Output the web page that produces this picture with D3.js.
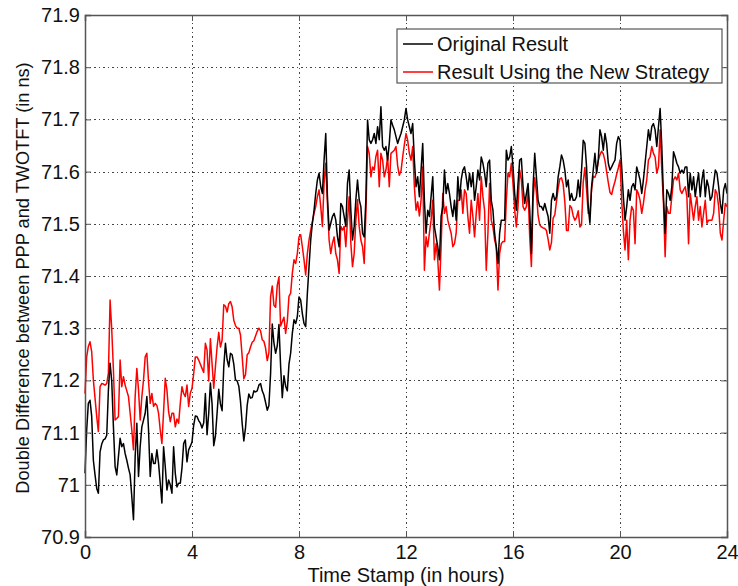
<!DOCTYPE html>
<html>
<head>
<meta charset="utf-8">
<script src="https://cdn.jsdelivr.net/npm/d3@7"></script>
<style>
  html, body { margin: 0; padding: 0; background: #ffffff; }
  svg { display: block; font-family: "Liberation Sans", Arial, sans-serif; }
</style>
</head>
<body>
<svg id="chart" width="738" height="586"></svg>
<script>
// ---------------- data ----------------
const timeStepHours = 1 / 16;   // one sample every 3.75 minutes
const seriesNames = ["Original Result", "Result Using the New Strategy"];
const seriesColors = ["#000000", "#ff0000"];

const originalResult = [
  71.022,71.105,71.156,71.162,71.131,71.047,71.019,70.993,70.984,71.063,
  71.078,71.086,71.088,71.095,71.182,71.233,71.198,71.111,71.035,71.019,
  71.054,71.089,71.073,71.079,71.06,71.047,71.032,71.019,70.977,70.933,
  71.054,71.118,71.016,71.073,71.111,71.124,71.137,71.169,71.105,71.016,
  71.06,71.041,71.041,71.067,71.041,71.003,70.965,71.073,71.035,70.99,
  71.009,71.0,70.984,71.073,71.022,70.996,71.003,71.003,71.032,71.079,
  71.086,71.044,71.067,71.074,71.082,71.114,71.132,71.131,71.123,71.118,
  71.109,71.119,71.175,71.096,71.137,71.195,71.155,71.075,71.093,71.137,
  71.183,71.155,71.142,71.226,71.271,71.24,71.226,71.252,71.249,71.231,
  71.201,71.199,71.189,71.16,71.118,71.084,71.109,71.152,71.174,71.166,
  71.167,71.18,71.178,71.18,71.191,71.194,71.18,71.172,71.158,71.143,
  71.152,71.213,71.308,71.272,71.252,71.266,71.307,71.227,71.167,71.209,
  71.189,71.18,71.231,71.252,71.29,71.316,71.309,71.322,71.36,71.354,
  71.328,71.309,71.303,71.367,71.418,71.469,71.501,71.526,71.558,71.584,
  71.597,71.571,71.558,71.622,71.673,71.552,71.488,71.501,71.514,71.52,
  71.507,71.475,71.456,71.539,71.533,71.514,71.495,71.578,71.603,71.526,
  71.469,71.495,71.546,71.584,71.546,71.533,71.482,71.475,71.546,71.699,
  71.661,71.654,71.661,71.673,71.654,71.686,71.661,71.724,71.648,71.641,
  71.648,71.622,71.654,71.699,71.689,71.68,71.667,71.654,71.664,71.673,
  71.686,71.699,71.721,71.699,71.686,71.673,71.692,71.622,71.571,71.59,
  71.552,71.603,71.654,71.545,71.482,71.526,71.514,71.552,71.59,71.494,
  71.475,71.456,71.431,71.514,71.533,71.603,71.558,71.577,71.558,71.533,
  71.514,71.545,71.507,71.59,71.545,71.584,71.603,71.609,71.59,71.565,
  71.597,71.571,71.597,71.545,71.571,71.603,71.584,71.628,71.616,71.597,
  71.571,71.616,71.622,71.545,71.526,71.482,71.456,71.424,71.482,71.507,
  71.507,71.507,71.641,71.622,71.628,71.648,71.609,71.558,71.526,71.577,
  71.622,71.625,71.571,71.539,71.558,71.577,71.526,71.443,71.571,71.635,
  71.59,71.545,71.533,71.533,71.526,71.539,71.526,71.514,71.482,71.545,
  71.558,71.545,71.552,71.59,71.609,71.632,71.622,71.603,71.571,71.584,
  71.545,71.558,71.545,71.545,71.552,71.584,71.552,71.603,71.66,71.654,
  71.609,71.533,71.501,71.571,71.603,71.635,71.597,71.622,71.68,71.667,
  71.641,71.673,71.654,71.616,71.603,71.609,71.616,71.622,71.654,71.667,
  71.66,71.609,71.552,71.507,71.533,71.565,71.545,71.571,71.577,71.565,
  71.609,71.597,71.584,71.558,71.584,71.616,71.648,71.68,71.66,71.686,
  71.692,71.68,71.648,71.686,71.721,71.648,71.552,71.482,71.565,71.558,
  71.545,71.571,71.638,71.628,71.616,71.609,71.597,71.603,71.597,71.609,
  71.609,71.552,71.597,71.565,71.59,71.552,71.577,71.597,71.552,71.584,
  71.603,71.552,71.584,71.571,71.545,71.552,71.577,71.603,71.597,71.571,
  71.539,71.52,71.565,71.577,71.558
];

const newStrategyResult = [
  71.175,71.245,71.265,71.274,71.255,71.201,71.166,71.131,71.102,71.188,
  71.194,71.193,71.191,71.194,71.214,71.354,71.297,71.22,71.124,71.127,
  71.131,71.239,71.188,71.207,71.191,71.18,71.169,71.137,71.105,71.067,
  71.169,71.223,71.182,71.124,71.169,71.201,71.245,71.252,71.198,71.156,
  71.175,71.15,71.156,71.152,71.137,71.105,71.079,71.14,71.204,71.182,
  71.14,71.121,71.137,71.137,71.111,71.126,71.118,71.156,71.188,71.175,
  71.169,71.191,71.15,71.176,71.185,71.213,71.245,71.245,71.239,71.231,
  71.223,71.215,71.271,71.258,71.199,71.28,71.232,71.185,71.226,71.264,
  71.292,71.264,71.277,71.345,71.342,71.331,71.347,71.351,71.341,71.315,
  71.305,71.3,71.3,71.287,71.246,71.203,71.211,71.249,71.253,71.264,
  71.273,71.276,71.285,71.294,71.3,71.295,71.278,71.275,71.262,71.238,
  71.253,71.36,71.381,71.344,71.34,71.382,71.398,71.304,71.313,71.321,
  71.29,71.313,71.361,71.367,71.405,71.431,71.424,71.443,71.475,71.479,
  71.456,71.431,71.402,71.443,71.469,71.488,71.504,71.52,71.533,71.552,
  71.565,71.533,71.495,71.578,71.616,71.539,71.469,71.443,71.463,71.475,
  71.443,71.431,71.405,71.495,71.488,71.495,71.456,71.507,71.552,71.463,
  71.418,71.443,71.507,71.546,71.495,71.469,71.456,71.424,71.52,71.648,
  71.635,71.59,71.609,71.603,71.629,71.641,71.571,71.635,71.622,71.59,
  71.603,71.629,71.571,71.635,71.638,71.641,71.648,71.611,71.593,71.601,
  71.628,71.651,71.673,71.66,71.635,71.622,71.648,71.571,71.526,71.542,
  71.515,71.545,71.609,71.411,71.475,71.456,71.482,71.507,71.545,71.431,
  71.462,71.431,71.373,71.456,71.558,71.52,71.533,71.507,71.494,71.482,
  71.456,71.462,71.482,71.545,71.545,71.565,71.52,71.565,71.558,71.514,
  71.482,71.545,71.514,71.475,71.52,71.558,71.507,71.59,71.552,71.526,
  71.411,71.482,71.577,71.507,71.494,71.469,71.456,71.373,71.443,71.462,
  71.466,71.466,71.545,71.597,71.59,71.616,71.577,71.526,71.494,71.533,
  71.603,71.584,71.533,71.526,71.533,71.565,71.475,71.418,71.545,71.588,
  71.56,71.516,71.498,71.494,71.492,71.491,71.487,71.47,71.45,71.464,
  71.511,71.517,71.543,71.568,71.586,71.588,71.576,71.542,71.487,71.487,
  71.535,71.531,71.515,71.507,71.512,71.525,71.494,71.498,71.58,71.608,
  71.565,71.52,71.52,71.566,71.591,71.589,71.599,71.621,71.632,71.639,
  71.634,71.621,71.6,71.579,71.56,71.556,71.57,71.581,71.595,71.607,
  71.622,71.545,71.488,71.45,71.507,71.431,71.507,71.533,71.526,71.462,
  71.565,71.558,71.545,71.52,71.539,71.565,71.584,71.622,71.628,71.648,
  71.635,71.628,71.597,71.609,71.68,71.603,71.539,71.437,71.533,71.52,
  71.52,71.552,71.584,71.59,71.584,71.597,71.565,71.558,71.565,71.571,
  71.552,71.462,71.558,71.533,71.507,71.533,71.552,71.507,71.533,71.494,
  71.52,71.545,71.501,71.507,71.507,71.507,71.52,71.565,71.558,71.533,
  71.482,71.469,71.507,71.539,71.533
];

const xTicks = [0, 4, 8, 12, 16, 20, 24];
const yTicks = [70.9, 71.0, 71.1, 71.2, 71.3, 71.4, 71.5, 71.6, 71.7, 71.8, 71.9];
const yTickLabels = ["70.9", "71", "71.1", "71.2", "71.3", "71.4", "71.5", "71.6", "71.7", "71.8", "71.9"];
const xLabel = "Time Stamp (in hours)";
const yLabel = "Double Difference between PPP and TWOTFT (in ns)";

// ---------------- layout ----------------
const svg = d3.select("#chart");
const plot = { left: 85, top: 15, right: 727, bottom: 537 };
const W = plot.right - plot.left, H = plot.bottom - plot.top;

const x = d3.scaleLinear().domain([0, 24]).range([plot.left, plot.right]);
const y = d3.scaleLinear().domain([70.9, 71.9]).range([plot.bottom, plot.top]);

svg.append("rect").attr("width", 738).attr("height", 586).attr("fill", "#fff");

// grid
const grid = svg.append("g").attr("class", "grid");
grid.append("g")
  .attr("transform", `translate(0,${plot.bottom})`)
  .call(d3.axisBottom(x).tickValues(xTicks.slice(1, -1)).tickSize(-H).tickFormat(""))
  .call(g => g.select(".domain").remove());
grid.append("g")
  .attr("transform", `translate(${plot.left},0)`)
  .call(d3.axisLeft(y).tickValues(yTicks.slice(1, -1)).tickSize(-W).tickFormat(""))
  .call(g => g.select(".domain").remove());
grid.selectAll("line")
  .attr("stroke", "#444").attr("stroke-width", 1)
  .attr("stroke-dasharray", "1.5,3").attr("shape-rendering", "crispEdges");

// series
const lineGen = d3.line()
  .x((d, i) => x(i * timeStepHours))
  .y(d => y(d));

svg.append("path")
  .datum(newStrategyResult)
  .attr("fill", "none").attr("stroke", seriesColors[1]).attr("stroke-width", 1.5)
  .attr("stroke-linejoin", "round")
  .attr("d", lineGen);
svg.append("path")
  .datum(originalResult)
  .attr("fill", "none").attr("stroke", seriesColors[0]).attr("stroke-width", 1.5)
  .attr("stroke-linejoin", "round")
  .attr("d", lineGen);

// axes
const fontSize = 20;
const axisColor = "#555";
const bottomAxis = svg.append("g")
  .attr("transform", `translate(0,${plot.bottom})`)
  .call(d3.axisBottom(x).tickValues(xTicks).tickSize(-6).tickPadding(8).tickFormat(d3.format("d")));
const topAxis = svg.append("g")
  .attr("transform", `translate(0,${plot.top})`)
  .call(d3.axisTop(x).tickValues(xTicks).tickSize(-6).tickFormat(""));
const leftAxis = svg.append("g")
  .attr("transform", `translate(${plot.left},0)`)
  .call(d3.axisLeft(y).tickValues(yTicks).tickSize(-6).tickPadding(5)
    .tickFormat((d, i) => yTickLabels[i]));
const rightAxis = svg.append("g")
  .attr("transform", `translate(${plot.right},0)`)
  .call(d3.axisRight(y).tickValues(yTicks).tickSize(-6).tickFormat(""));

[bottomAxis, topAxis, leftAxis, rightAxis].forEach(g => {
  g.select(".domain").attr("stroke", axisColor).attr("stroke-width", 1.5);
  g.selectAll(".tick line").attr("stroke", axisColor);
  g.selectAll("text").attr("font-size", fontSize).attr("fill", "#111")
    .attr("font-family", '"Liberation Sans", Arial, sans-serif');
});

// axis titles
svg.append("text")
  .attr("x", (plot.left + plot.right) / 2).attr("y", 582)
  .attr("text-anchor", "middle").attr("font-size", fontSize).attr("fill", "#111")
  .text(xLabel);
svg.append("text")
  .attr("transform", `translate(29,${(plot.top + plot.bottom) / 2 + 2}) rotate(-90)`)
  .attr("text-anchor", "middle").attr("font-size", 18.2).attr("fill", "#111")
  .text(yLabel);

// legend
const legend = svg.append("g");
legend.append("rect")
  .attr("x", 397).attr("y", 29).attr("width", 325).attr("height", 54)
  .attr("fill", "#fff").attr("stroke", axisColor).attr("stroke-width", 1.2);
seriesNames.forEach((name, i) => {
  const cy = 44 + i * 28;
  legend.append("line")
    .attr("x1", 403).attr("x2", 433).attr("y1", cy).attr("y2", cy)
    .attr("stroke", seriesColors[i]).attr("stroke-width", 1.5);
  legend.append("text")
    .attr("x", 437).attr("y", cy + 7)
    .attr("font-size", fontSize).attr("fill", "#111")
    .text(name);
});
</script>
</body>
</html>
